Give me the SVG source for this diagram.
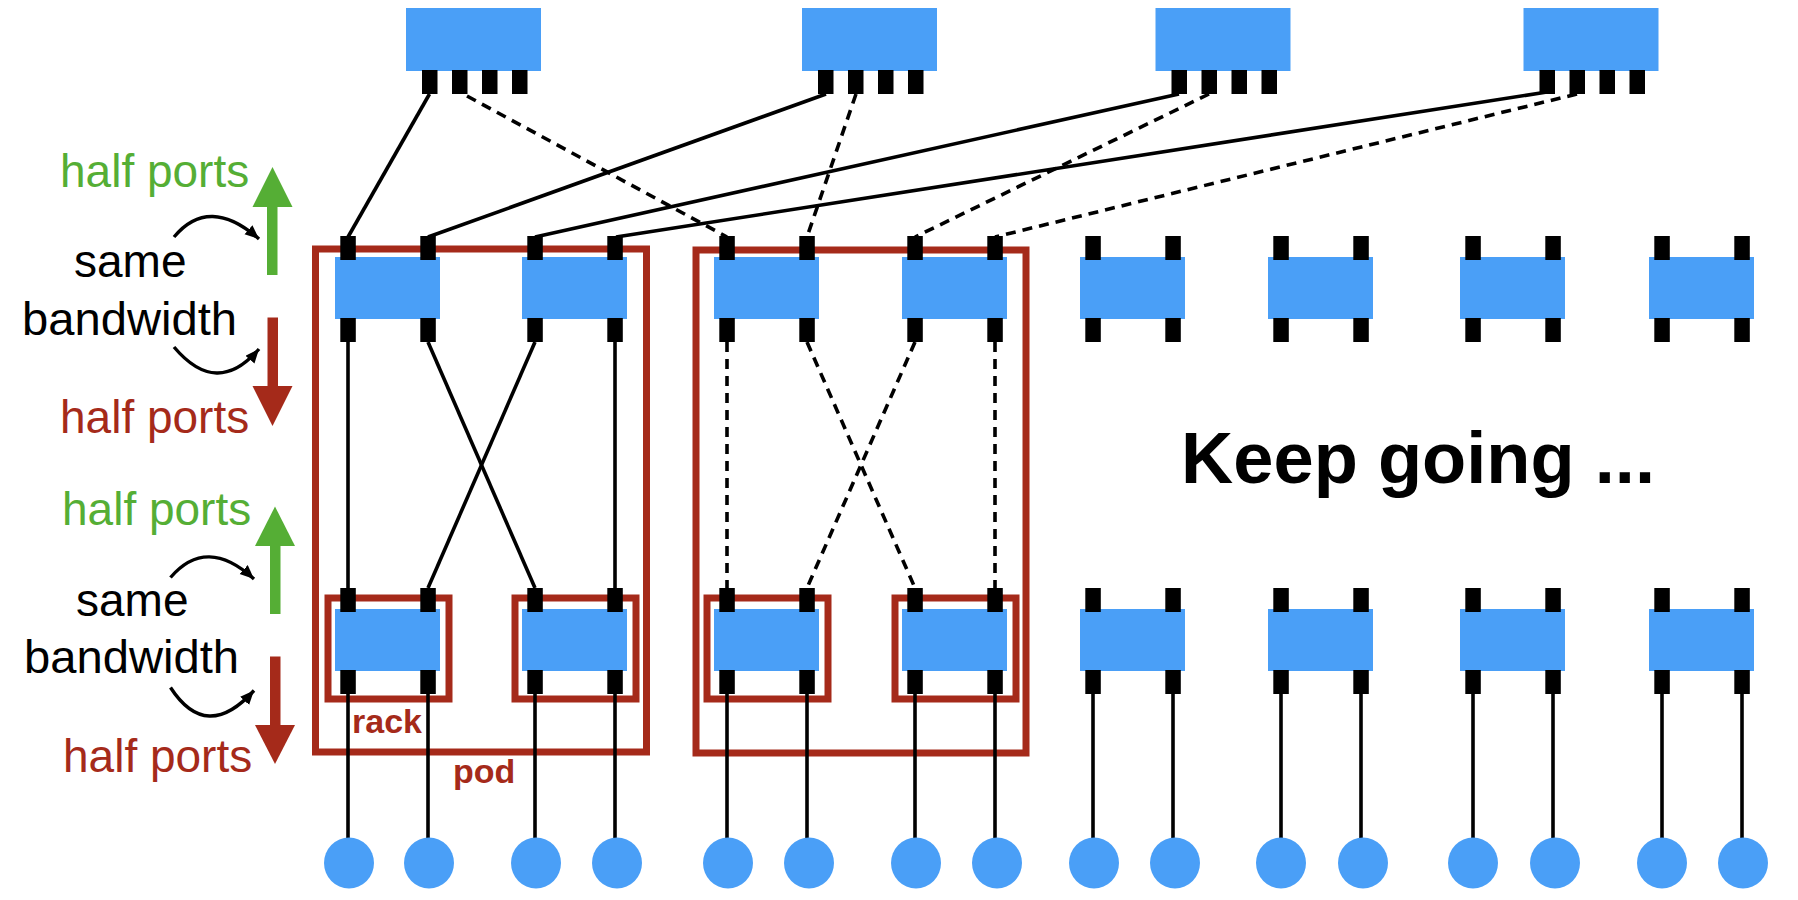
<svg xmlns="http://www.w3.org/2000/svg" width="1798" height="900" viewBox="0 0 1798 900">
  <style>
    .box { fill: #4A9FF7; }
    .port { fill: #000; }
    .host { fill: #4A9FF7; }
    .ln { stroke: #000; stroke-width: 3.6; fill: none; }
    .dash { stroke-dasharray: 10 7; }
    .grp { fill: none; stroke: #A52A1A; stroke-width: 7; }
    .t { font-family: "Liberation Sans", Arial, sans-serif; font-size: 46px; }
    .green { fill: #55AE35; }
    .red { fill: #A52A1A; }
    .lbl { font-family: "Liberation Sans", Arial, sans-serif; font-weight: bold; font-size: 34px; fill: #A52A1A; }
    .big { font-family: "Liberation Sans", Arial, sans-serif; font-weight: bold; font-size: 72px; fill: #000; }
    .curve { stroke: #000; stroke-width: 3.4; fill: none; }
  </style>
  <defs>
    <marker id="ah" markerUnits="userSpaceOnUse" markerWidth="16" markerHeight="14" refX="14" refY="6" orient="auto">
      <path d="M0,0 L14,6 L0,12 z" fill="#000"/>
    </marker>
    <g id="sw">
      <rect class="box" x="0" y="21" width="105" height="62"/>
      <rect class="port" x="5.3" y="0" width="15.5" height="24"/>
      <rect class="port" x="85.3" y="0" width="15.5" height="24"/>
      <rect class="port" x="5.3" y="82" width="15.5" height="24"/>
      <rect class="port" x="85.3" y="82" width="15.5" height="24"/>
    </g>
    <g id="spine">
      <rect class="box" x="0" y="8" width="135" height="63"/>
      <rect class="port" x="16" y="70" width="15.5" height="24"/>
      <rect class="port" x="46" y="70" width="15.5" height="24"/>
      <rect class="port" x="76" y="70" width="15.5" height="24"/>
      <rect class="port" x="106" y="70" width="15.5" height="24"/>
    </g>
  </defs>

  <!-- groupings -->
  <g id="pods">
    <rect id="pod1" class="grp" x="315.5" y="249" width="331" height="503"/>
    <rect id="pod2" class="grp" x="696" y="250" width="330" height="503"/>
  </g>
  <g id="racks">
    <rect id="rack1" class="grp" x="328" y="598" width="121" height="101"/>
    <rect id="rack2" class="grp" x="515" y="598" width="121" height="101"/>
    <rect id="rack3" class="grp" x="707" y="598" width="121" height="101"/>
    <rect id="rack4" class="grp" x="895" y="598" width="121" height="101"/>
  </g>

  <g id="connectors">
    <!-- spine to aggregation -->
    <line class="ln" x1="429.5" y1="94" x2="348" y2="237"/>
    <line class="ln dash" x1="467" y1="96" x2="727" y2="237"/>
    <line class="ln" x1="826" y1="94" x2="428" y2="237"/>
    <line class="ln dash" x1="856" y1="94" x2="807" y2="237"/>
    <line class="ln" x1="1179" y1="94" x2="535" y2="237"/>
    <line class="ln dash" x1="1209" y1="94" x2="915" y2="237"/>
    <line class="ln" x1="1547" y1="92" x2="616" y2="237"/>
    <line class="ln dash" x1="1577" y1="94" x2="995" y2="237"/>
    <!-- pod 1 aggregation to ToR -->
    <line class="ln" x1="348" y1="342" x2="348" y2="588"/>
    <line class="ln" x1="428" y1="342" x2="535" y2="588"/>
    <line class="ln" x1="535" y1="342" x2="428" y2="588"/>
    <line class="ln" x1="615" y1="342" x2="615" y2="588"/>
    <!-- pod 2 aggregation to ToR -->
    <line class="ln dash" x1="727" y1="342" x2="727" y2="588"/>
    <line class="ln dash" x1="807" y1="342" x2="915" y2="588"/>
    <line class="ln dash" x1="915" y1="342" x2="807" y2="588"/>
    <line class="ln dash" x1="995" y1="342" x2="995" y2="588"/>
    <!-- ToR to hosts -->
    <g class="ln">
      <line x1="348" y1="694" x2="348" y2="840"/>
      <line x1="428" y1="694" x2="428" y2="840"/>
      <line x1="535" y1="694" x2="535" y2="840"/>
      <line x1="615" y1="694" x2="615" y2="840"/>
      <line x1="727" y1="694" x2="727" y2="840"/>
      <line x1="807" y1="694" x2="807" y2="840"/>
      <line x1="915" y1="694" x2="915" y2="840"/>
      <line x1="995" y1="694" x2="995" y2="840"/>
      <line x1="1093" y1="694" x2="1093" y2="840"/>
      <line x1="1173" y1="694" x2="1173" y2="840"/>
      <line x1="1281" y1="694" x2="1281" y2="840"/>
      <line x1="1361" y1="694" x2="1361" y2="840"/>
      <line x1="1473" y1="694" x2="1473" y2="840"/>
      <line x1="1553" y1="694" x2="1553" y2="840"/>
      <line x1="1662" y1="694" x2="1662" y2="840"/>
      <line x1="1742" y1="694" x2="1742" y2="840"/>
    </g>
  </g>

  <!-- spine switches -->
  <g id="spine1"><use href="#spine" x="406" y="0"/></g>
  <g id="spine2"><use href="#spine" x="802" y="0"/></g>
  <g id="spine3"><use href="#spine" x="1155.5" y="0"/></g>
  <g id="spine4"><use href="#spine" x="1523.5" y="0"/></g>

  <!-- aggregation switches -->
  <g id="agg1"><use href="#sw" x="335" y="236"/></g>
  <g id="agg2"><use href="#sw" x="522" y="236"/></g>
  <g id="agg3"><use href="#sw" x="714" y="236"/></g>
  <g id="agg4"><use href="#sw" x="902" y="236"/></g>
  <g id="agg5"><use href="#sw" x="1080" y="236"/></g>
  <g id="agg6"><use href="#sw" x="1268" y="236"/></g>
  <g id="agg7"><use href="#sw" x="1460" y="236"/></g>
  <g id="agg8"><use href="#sw" x="1649" y="236"/></g>

  <!-- ToR switches -->
  <g id="tor1"><use href="#sw" x="335" y="588"/></g>
  <g id="tor2"><use href="#sw" x="522" y="588"/></g>
  <g id="tor3"><use href="#sw" x="714" y="588"/></g>
  <g id="tor4"><use href="#sw" x="902" y="588"/></g>
  <g id="tor5"><use href="#sw" x="1080" y="588"/></g>
  <g id="tor6"><use href="#sw" x="1268" y="588"/></g>
  <g id="tor7"><use href="#sw" x="1460" y="588"/></g>
  <g id="tor8"><use href="#sw" x="1649" y="588"/></g>

  <!-- hosts -->
  <g id="hosts">
    <ellipse id="host1" class="host" cx="349" cy="863" rx="25" ry="25.5"/>
    <ellipse id="host2" class="host" cx="429" cy="863" rx="25" ry="25.5"/>
    <ellipse id="host3" class="host" cx="536" cy="863" rx="25" ry="25.5"/>
    <ellipse id="host4" class="host" cx="617" cy="863" rx="25" ry="25.5"/>
    <ellipse id="host5" class="host" cx="728" cy="863" rx="25" ry="25.5"/>
    <ellipse id="host6" class="host" cx="809" cy="863" rx="25" ry="25.5"/>
    <ellipse id="host7" class="host" cx="916" cy="863" rx="25" ry="25.5"/>
    <ellipse id="host8" class="host" cx="997" cy="863" rx="25" ry="25.5"/>
    <ellipse id="host9" class="host" cx="1094" cy="863" rx="25" ry="25.5"/>
    <ellipse id="host10" class="host" cx="1175" cy="863" rx="25" ry="25.5"/>
    <ellipse id="host11" class="host" cx="1281" cy="863" rx="25" ry="25.5"/>
    <ellipse id="host12" class="host" cx="1363" cy="863" rx="25" ry="25.5"/>
    <ellipse id="host13" class="host" cx="1473" cy="863" rx="25" ry="25.5"/>
    <ellipse id="host14" class="host" cx="1555" cy="863" rx="25" ry="25.5"/>
    <ellipse id="host15" class="host" cx="1662" cy="863" rx="25" ry="25.5"/>
    <ellipse id="host16" class="host" cx="1743" cy="863" rx="25" ry="25.5"/>
  </g>

  <!-- labels -->
  <g id="labels">
    <text class="lbl" x="352" y="732.5">rack</text>
    <text class="lbl" x="453" y="783">pod</text>
    <text class="big" x="1181" y="482.5" textLength="474" lengthAdjust="spacingAndGlyphs">Keep going ...</text>
  </g>

  <!-- left annotation, upper (aggregation) -->
  <g id="annot-agg">
    <text class="t green" x="60" y="186.5">half ports</text>
    <text class="t" x="74" y="277">same</text>
    <text class="t" x="22" y="335" textLength="215" lengthAdjust="spacingAndGlyphs">bandwidth</text>
    <text class="t red" x="60" y="432.5">half ports</text>
    <rect class="green" x="267" y="205" width="10.5" height="70"/>
    <polygon class="green" points="252.5,207 292.5,207 272.5,167"/>
    <rect class="red" x="267.5" y="317.5" width="10.5" height="70"/>
    <polygon class="red" points="252.5,386 292.5,386 272.5,426"/>
    <path class="curve" d="M174,237 Q209,195 259,239" marker-end="url(#ah)"/>
    <path class="curve" d="M174,347 Q217,398 259,349" marker-end="url(#ah)"/>
  </g>

  <!-- left annotation, lower (ToR) -->
  <g id="annot-tor">
    <text class="t green" x="62" y="525">half ports</text>
    <text class="t" x="76" y="615.5">same</text>
    <text class="t" x="24" y="673" textLength="215" lengthAdjust="spacingAndGlyphs">bandwidth</text>
    <text class="t red" x="63" y="771.5">half ports</text>
    <rect class="green" x="270" y="544" width="10.5" height="70"/>
    <polygon class="green" points="255,546 295,546 275,506.5"/>
    <rect class="red" x="270" y="656.5" width="10.5" height="70"/>
    <polygon class="red" points="255,725 295,725 275,764"/>
    <path class="curve" d="M170.5,577.5 Q206.5,535.5 254,579" marker-end="url(#ah)"/>
    <path class="curve" d="M170.5,687.5 Q206.5,743 254,690.5" marker-end="url(#ah)"/>
  </g>
</svg>
